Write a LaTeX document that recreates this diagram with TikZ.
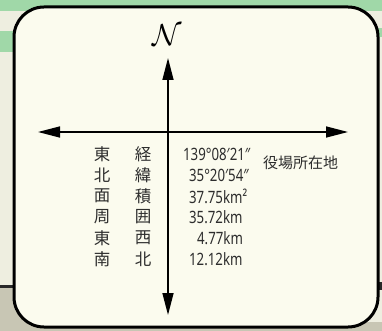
\documentclass[tikz,border=0pt]{standalone}
\usepackage{fontspec}
\setmainfont{Noto Sans CJK JP}
\newfontfamily\numfont[FakeStretch=0.78]{Noto Sans}
\usetikzlibrary{arrows.meta}

\tikzset{every picture/.style={line width=0.75pt}}
\tikzset{
  kanji/.style={anchor=center,inner sep=0.75pt,text={rgb, 255:red, 45; green, 45; blue, 45 },font=\fontsize{16.5}{16.5}\selectfont},
  place/.style={anchor=west,inner sep=0.75pt,text={rgb, 255:red, 45; green, 45; blue, 45 },font=\fontsize{15}{15}\selectfont},
  num/.style={anchor=west,inner sep=0.75pt,text={rgb, 255:red, 45; green, 45; blue, 45 },font=\numfont\fontsize{17}{17}\selectfont},
  axis/.style={line width=1.5pt,{Triangle[length=22pt,width=11pt]}-{Triangle[length=22pt,width=11pt]}}
}

\begin{document}
\begin{tikzpicture}[x=1pt,y=1pt,yscale=-1,xscale=1]
\useasboundingbox (0,0) rectangle (382,331);

%Shape: page behind
\fill [fill={rgb, 255:red, 238; green, 238; blue, 224 }] (0,0) rectangle (382,331) ;
\fill [fill={rgb, 255:red, 160; green, 216; blue, 168 }] (0,0) rectangle (382,11) ;
\fill [fill={rgb, 255:red, 160; green, 216; blue, 168 }] (0,31) rectangle (16,52) ;
\fill [fill={rgb, 255:red, 160; green, 216; blue, 168 }] (370,28) rectangle (382,37) ;
\fill [fill={rgb, 255:red, 200; green, 198; blue, 180 }] (0,288) rectangle (40,331) ;
\fill [fill={rgb, 255:red, 200; green, 198; blue, 180 }] (0,322) rectangle (382,331) ;
\fill [fill={rgb, 255:red, 40; green, 40; blue, 40 }] (0,285) rectangle (16,288) ;
\fill [fill={rgb, 255:red, 40; green, 40; blue, 40 }] (376,282) rectangle (382,290) ;

%Shape: Rounded Rectangle
\draw [line width=3pt, rounded corners=30pt, fill={rgb, 255:red, 251; green, 251; blue, 238 }] (14,7) rectangle (378,327) ;

%Axes
\coordinate (ntip) at (168,58) ;
\coordinate (stip) at (168,315) ;
\coordinate (wtip) at (38,132) ;
\coordinate (etip) at (348,132) ;
\draw [axis] (ntip) -- (stip) ;
\draw [axis] (wtip) -- (etip) ;

% Text Node
\draw (167,35.5) node (north) [inner sep=0.75pt, scale=1.22] {\fontsize{24.88}{25}\selectfont$\mathcal{N}$};

% Text Node
\draw (102,154) node (k1a) [kanji] {東};
\draw (143,154) node (k1b) [kanji] {経};
\draw (182,154) node (v1) [num] {139°08′21″};
% Text Node
\draw (102,175) node (k2a) [kanji] {北};
\draw (143,175) node (k2b) [kanji] {緯};
\draw (188,175) node (v2) [num] {35°20′54″};
% Text Node
\draw (102,196) node (k3a) [kanji] {面};
\draw (143,196) node (k3b) [kanji] {積};
\draw (188,196) node (v3) [num] {37.75km²};
% Text Node
\draw (102,217) node (k4a) [kanji] {周};
\draw (143,217) node (k4b) [kanji] {囲};
\draw (188,217) node (v4) [num] {35.72km};
% Text Node
\draw (102,238) node (k5a) [kanji] {東};
\draw (143,238) node (k5b) [kanji] {西};
\draw (196,238) node (v5) [num] {4.77km};
% Text Node
\draw (102,259) node (k6a) [kanji] {南};
\draw (143,259) node (k6b) [kanji] {北};
\draw (188,259) node (v6) [num] {12.12km};

% Text Node
\draw (262,163) node (office) [place] {役場所在地};

\end{tikzpicture}
\end{document}
